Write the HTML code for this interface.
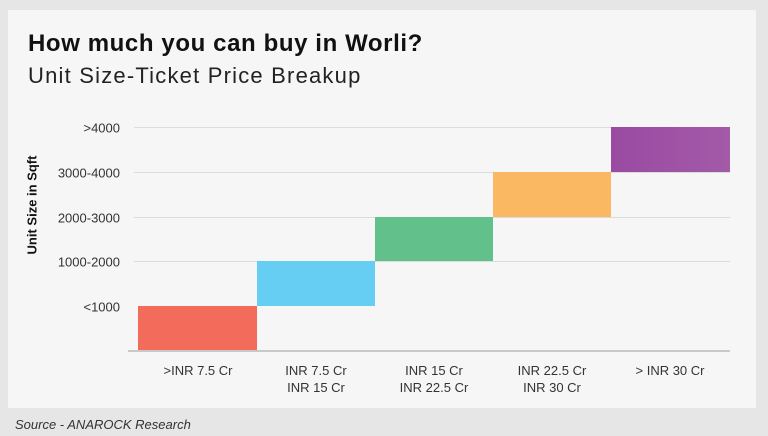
<!DOCTYPE html>
<html><head><style>
body{margin:0;width:768px;height:436px;background:#e6e6e6;font-family:"Liberation Sans",sans-serif;position:relative;overflow:hidden}
.card{position:absolute;left:8px;top:10px;width:748px;height:398px;background:#f6f6f6}
.a{position:absolute;white-space:nowrap}
.yl{position:absolute;right:648px;font-size:13px;color:#333;transform:translateY(-50%)}
.g{position:absolute;left:134px;width:596px;height:1px;background:#dcdcdc}
.b{position:absolute}
.xl{position:absolute;width:118px;text-align:center;font-size:13px;color:#333;line-height:17px;top:362px}
</style></head><body>
<div class="card"></div>
<div class="a" style="left:28px;top:30px;font-size:24px;font-weight:bold;color:#111;letter-spacing:0.6px">How much you can buy in Worli?</div>
<div class="a" style="left:28px;top:63px;font-size:22px;color:#222;letter-spacing:1.2px">Unit Size-Ticket Price Breakup</div>
<div class="g" style="top:127px"></div>
<div class="g" style="top:172px"></div>
<div class="g" style="top:217px"></div>
<div class="g" style="top:261px"></div>
<div class="yl" style="top:128px">&gt;4000</div>
<div class="yl" style="top:173px">3000-4000</div>
<div class="yl" style="top:218px">2000-3000</div>
<div class="yl" style="top:262px">1000-2000</div>
<div class="yl" style="top:307px">&lt;1000</div>
<div class="a" style="left:32px;top:205px;font-size:13px;font-weight:bold;color:#111;transform:translate(-50%,-50%) rotate(-90deg)">Unit Size in Sqft</div>
<div class="b" style="left:138px;top:306px;width:119px;height:45px;background:#f26b5b"></div>
<div class="b" style="left:257px;top:261px;width:118px;height:45px;background:#66cdf3"></div>
<div class="b" style="left:375px;top:217px;width:118px;height:44px;background:#62c08a"></div>
<div class="b" style="left:493px;top:172px;width:118px;height:45px;background:#fbb862"></div>
<div class="b" style="left:611px;top:127px;width:119px;height:45px;background:linear-gradient(90deg,#9a4aa2,#a35aa8)"></div>
<div class="b" style="left:128px;top:350px;width:602px;height:2px;background:#c9c9c9"></div>
<div class="xl" style="left:139px">&gt;INR 7.5 Cr</div>
<div class="xl" style="left:257px">INR 7.5 Cr<br>INR 15 Cr</div>
<div class="xl" style="left:375px">INR 15 Cr<br>INR 22.5 Cr</div>
<div class="xl" style="left:493px">INR 22.5 Cr<br>INR 30 Cr</div>
<div class="xl" style="left:611px">&gt; INR 30 Cr</div>
<div class="a" style="left:15px;top:417px;font-size:13px;font-style:italic;color:#333">Source - ANAROCK Research</div>
</body></html>
